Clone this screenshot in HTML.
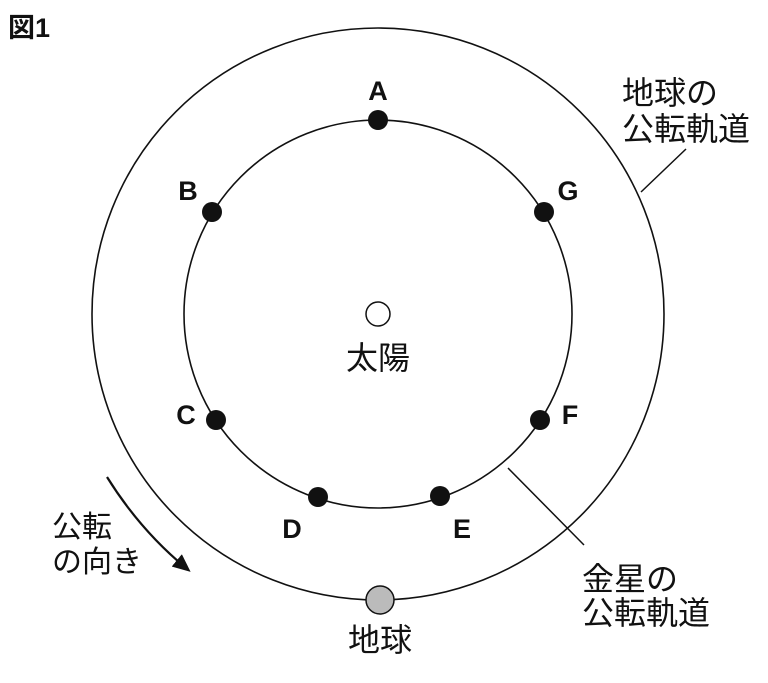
<!DOCTYPE html>
<html><head><meta charset="utf-8"><style>
html,body{margin:0;padding:0;background:#fff;}
svg{display:block;}
text{font-family:"Liberation Sans","Noto Sans CJK JP",sans-serif;fill:#111;}
</style></head><body>
<svg width="768" height="683" viewBox="0 0 768 683" xmlns="http://www.w3.org/2000/svg">
<defs><marker id="ah" markerWidth="18" markerHeight="16" refX="12" refY="8" orient="auto" markerUnits="userSpaceOnUse">
<path d="M0,0 L18,8 L0,16 Z" fill="#111"/></marker></defs>
<text x="8" y="37" font-size="27" font-weight="bold">図1</text>
<circle cx="378" cy="314" r="286" fill="none" stroke="#111" stroke-width="1.6"/>
<circle cx="378" cy="314" r="194" fill="none" stroke="#111" stroke-width="1.6"/>
<circle cx="378" cy="314" r="12" fill="#fff" stroke="#111" stroke-width="1.5"/>
<circle cx="380" cy="600" r="14" fill="#bbb" stroke="#111" stroke-width="1.5"/>
<g fill="#111">
<circle cx="378" cy="120" r="10"/><circle cx="212" cy="212" r="10"/><circle cx="544" cy="212" r="10"/>
<circle cx="216" cy="420" r="10"/><circle cx="540" cy="420" r="10"/>
<circle cx="318" cy="497" r="10"/><circle cx="440" cy="496" r="10"/>
</g>
<g font-size="27" text-anchor="middle" font-weight="bold">
<text x="378" y="100">A</text><text x="188" y="200">B</text><text x="568" y="200">G</text>
<text x="186" y="424">C</text><text x="570" y="424">F</text>
<text x="292" y="538">D</text><text x="462" y="538">E</text>
</g>
<g font-size="32">
<text x="378" y="369" text-anchor="middle">太陽</text>
<text x="380" y="651" text-anchor="middle">地球</text>
<text x="622" y="104">地球の</text><text x="622" y="140">公転軌道</text>
<text x="582" y="590">金星の</text><text x="582" y="624">公転軌道</text>
</g>
<g font-size="30">
<text x="52" y="537">公転</text><text x="52" y="572">の向き</text>
</g>
<line x1="641" y1="192" x2="686" y2="149" stroke="#111" stroke-width="1.5"/>
<line x1="508" y1="468" x2="584" y2="545" stroke="#111" stroke-width="1.5"/>
<path d="M107,477 Q140,530 186,568" fill="none" stroke="#111" stroke-width="2.2" marker-end="url(#ah)"/>
</svg>
</body></html>
